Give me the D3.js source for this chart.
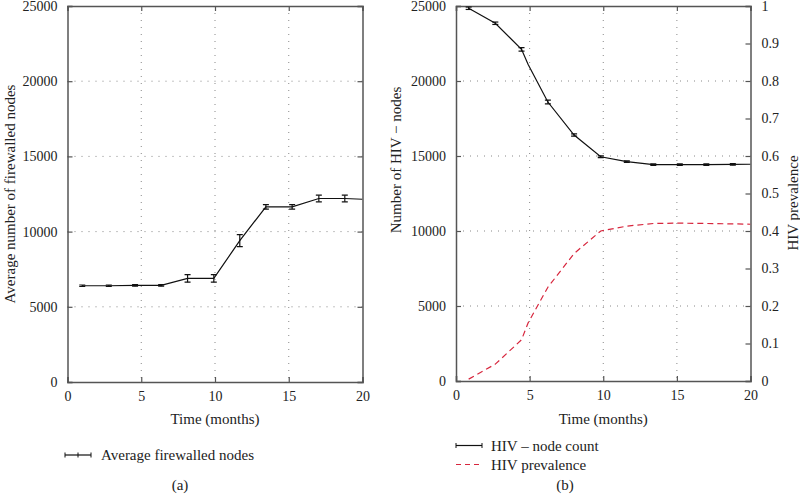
<!DOCTYPE html>
<html><head><meta charset="utf-8">
<script src="https://cdn.jsdelivr.net/npm/d3@7"></script>
<style>
html,body{margin:0;padding:0;background:#fff;}
svg text{font-family:"Liberation Serif","Times New Roman",serif;fill:#222;}
</style></head>
<body><svg id="c" width="800" height="500"></svg>
<script>
// ---- data ----
const xTicks = [0, 5, 10, 15, 20];
const countTicks = [0, 5000, 10000, 15000, 20000, 25000];
const prevTicks = [0, 0.1, 0.2, 0.3, 0.4, 0.5, 0.6, 0.7, 0.8, 0.9, 1];

const monthsA = [1.0, 2.8, 4.58, 6.35, 8.14, 9.92, 11.68, 13.45, 15.23, 17.04, 18.8, 20];
const firewalled = [6400, 6400, 6420, 6420, 6890, 6890, 9400, 11650, 11650, 12200, 12200, 12150];
const firewalledErr = [50, 50, 50, 50, 250, 250, 400, 150, 150, 220, 220, null];

const monthsB = [0.86, 2.67, 4.45, 4.9, 6.24, 8.02, 9.83, 11.6, 13.4, 15.2, 17.0, 18.8, 20];
const hivNeg = [24850, 23850, 22110, 21100, 18600, 16400, 14950, 14620, 14420, 14420, 14420, 14440, 14450];
const hivNegErr = [80, 80, 120, null, 120, 80, 60, 50, 50, 50, 50, 50, null];
const prevalence = [0.005, 0.045, 0.11, 0.155, 0.25, 0.34, 0.40, 0.413, 0.42, 0.421, 0.42, 0.419, 0.418];

const FONT = "Liberation Serif, Times New Roman, serif";
const svg = d3.select("#c");
const axisColor = "#555", gridColor = "#888";

function styleAxis(sel) {
  sel.attr("font-family", FONT).attr("font-size", 14);
  sel.selectAll(".domain").attr("stroke", axisColor).attr("stroke-width", 1.5);
  sel.selectAll(".tick line").attr("stroke", axisColor).attr("stroke-width", 1.2);
  sel.selectAll(".tick text").attr("fill", "#222").attr("font-family", FONT).attr("font-size", 14);
}

function panel(box, id) {
  const x = d3.scaleLinear().domain([0, 20]).range([box.x0, box.x1]);
  const y = d3.scaleLinear().domain([0, 25000]).range([box.y1, box.y0]);
  svg.append("clipPath").attr("id", id).append("rect")
    .attr("x", box.x0).attr("y", box.y0 - 10).attr("width", box.x1 - box.x0).attr("height", box.y1 - box.y0 + 10);
  const g = svg.append("g");
  [5, 10, 15].forEach(v => g.append("line").attr("x1", x(v)).attr("x2", x(v)).attr("y1", box.y0).attr("y2", box.y1)
    .attr("stroke", gridColor).attr("stroke-width", 1).attr("stroke-dasharray", "1,6"));
  [5000, 10000, 15000, 20000].forEach(v => g.append("line").attr("y1", y(v)).attr("y2", y(v)).attr("x1", box.x0).attr("x2", box.x1)
    .attr("stroke", gridColor).attr("stroke-width", 1).attr("stroke-dasharray", "1,6"));
  svg.append("g").attr("transform", `translate(0,${box.y1})`)
    .call(d3.axisBottom(x).tickValues(xTicks).tickSize(-5).tickPadding(9).tickFormat(d3.format("d"))).call(styleAxis);
  svg.append("g").attr("transform", `translate(0,${box.y0})`)
    .call(d3.axisTop(x).tickValues(xTicks).tickSize(-5).tickFormat("")).call(styleAxis);
  svg.append("g").attr("transform", `translate(${box.x0},0)`)
    .call(d3.axisLeft(y).tickValues(countTicks).tickSize(-5).tickPadding(10).tickFormat(d3.format("d"))).call(styleAxis);
  return {x, y};
}

function errorBars(g, months, vals, errs, x, y, cap) {
  months.forEach((m, i) => {
    if (errs[i] == null) return;
    const cx = x(m), yt = y(vals[i] + errs[i]), yb = y(vals[i] - errs[i]);
    g.append("line").attr("x1", cx).attr("x2", cx).attr("y1", yt).attr("y2", yb).attr("stroke", "#111").attr("stroke-width", 1.2);
    g.append("line").attr("x1", cx - cap).attr("x2", cx + cap).attr("y1", yt).attr("y2", yt).attr("stroke", "#111").attr("stroke-width", 1.2);
    g.append("line").attr("x1", cx - cap).attr("x2", cx + cap).attr("y1", yb).attr("y2", yb).attr("stroke", "#111").attr("stroke-width", 1.2);
  });
}

function label(x, y, txt, rot) {
  const t = svg.append("text").attr("font-family", FONT).attr("font-size", 15).attr("fill", "#222")
    .attr("text-anchor", "middle").attr("dy", "0.35em").text(txt);
  if (rot) t.attr("transform", `translate(${x},${y}) rotate(-90)`);
  else t.attr("x", x).attr("y", y);
  return t;
}

// ---- panel (a) ----
const A = {x0: 67.5, x1: 362.5, y0: 6, y1: 382};
const pa = panel(A, "clipA");
svg.append("g").attr("transform", `translate(${A.x1},0)`)
  .call(d3.axisRight(pa.y).tickValues(countTicks).tickSize(-5).tickFormat("")).call(styleAxis);
const lineA = d3.line().x((d, i) => pa.x(monthsA[i])).y(d => pa.y(d));
const gA = svg.append("g").attr("clip-path", "url(#clipA)");
gA.append("path").datum(firewalled).attr("d", lineA).attr("fill", "none").attr("stroke", "#111").attr("stroke-width", 1.2);
errorBars(gA, monthsA, firewalled, firewalledErr, pa.x, pa.y, 3);

label(10, (A.y0 + A.y1) / 2, "Average number of firewalled nodes", true);
label((A.x0 + A.x1) / 2, 419, "Time (months)");

const lgA = svg.append("g");
lgA.append("line").attr("x1", 65).attr("x2", 91).attr("y1", 455).attr("y2", 455).attr("stroke", "#111").attr("stroke-width", 1.2);
[65, 78, 91].forEach(v => lgA.append("line").attr("x1", v).attr("x2", v).attr("y1", 452.5).attr("y2", 457.5).attr("stroke", "#111").attr("stroke-width", 1));
label(101, 455, "Average firewalled nodes").attr("text-anchor", "start");
label(180, 485, "(a)");

// ---- panel (b) ----
const B = {x0: 456, x1: 750.5, y0: 6, y1: 381};
const pb = panel(B, "clipB");
const yP = d3.scaleLinear().domain([0, 1]).range([B.y1, B.y0]);
svg.append("g").attr("transform", `translate(${B.x1},0)`)
  .call(d3.axisRight(yP).tickValues(prevTicks).tickSize(-5).tickPadding(11)
    .tickFormat(d => (d === 0 || d === 1) ? d3.format("d")(d) : d3.format(".1f")(d)))
  .call(styleAxis);

const gB = svg.append("g").attr("clip-path", "url(#clipB)");
const lineB = d3.line().x((d, i) => pb.x(monthsB[i])).y(d => pb.y(d));
gB.append("path").datum(hivNeg).attr("d", lineB).attr("fill", "none").attr("stroke", "#111").attr("stroke-width", 1.2);
errorBars(gB, monthsB, hivNeg, hivNegErr, pb.x, pb.y, 3);
const lineP = d3.line().x((d, i) => pb.x(monthsB[i])).y(d => yP(d));
gB.append("path").datum(prevalence).attr("d", lineP).attr("fill", "none").attr("stroke", "#d7263d")
  .attr("stroke-width", 1.2).attr("stroke-dasharray", "6,4");

label(396, 160, "Number of HIV − nodes", true);
label(793, 203, "HIV prevalence", true);
label((B.x0 + B.x1) / 2, 419, "Time (months)");

const lgB = svg.append("g");
lgB.append("line").attr("x1", 456).attr("x2", 482).attr("y1", 445.5).attr("y2", 445.5).attr("stroke", "#111").attr("stroke-width", 1.2);
[456, 482].forEach(v => lgB.append("line").attr("x1", v).attr("x2", v).attr("y1", 443).attr("y2", 448).attr("stroke", "#111").attr("stroke-width", 1));
label(491, 445.5, "HIV – node count").attr("text-anchor", "start");
lgB.append("line").attr("x1", 456).attr("x2", 482).attr("y1", 464.5).attr("y2", 464.5).attr("stroke", "#d7263d").attr("stroke-width", 1.2).attr("stroke-dasharray", "5,4");
label(491, 464.5, "HIV prevalence").attr("text-anchor", "start");
label(565, 485, "(b)");
</script></body></html>
